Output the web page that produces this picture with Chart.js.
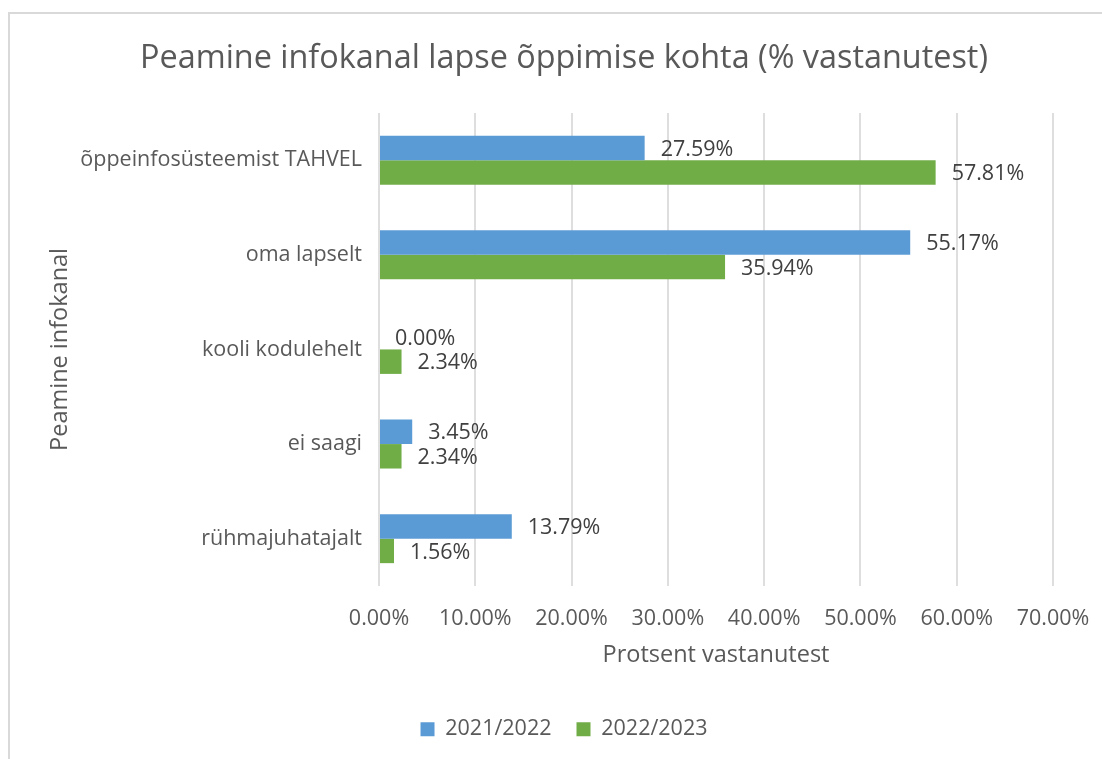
<!DOCTYPE html>
<html>
<head>
<meta charset="utf-8">
<script src="https://cdn.jsdelivr.net/npm/chart.js@4.4.1/dist/chart.umd.min.js"></script>
<style>
  html, body { margin: 0; padding: 0; background: #fff; overflow: hidden; width: 1102px; height: 759px; }
  #frame { position: absolute; left: 8px; top: 12px; width: 1200px; height: 800px;
           border-left: 2px solid #d9d9d9; border-top: 2px solid #d9d9d9; }
  #wrap { position: absolute; left: 0; top: 0; width: 1128px; height: 759px; }
</style>
</head>
<body>
<div id="frame"></div>
<div id="wrap"><canvas id="c" width="1128" height="759"></canvas></div>
<script>
const titleText = 'Peamine infokanal lapse õppimise kohta (% vastanutest)';
const yAxisTitle = 'Peamine infokanal';
const xAxisTitle = 'Protsent vastanutest';
const categories = ['õppeinfosüsteemist TAHVEL', 'oma lapselt', 'kooli kodulehelt', 'ei saagi', 'rühmajuhatajalt'];
const seriesNames = ['2021/2022', '2022/2023'];
const values2021 = [27.59, 55.17, 0.00, 3.45, 13.79];
const values2022 = [57.81, 35.94, 2.34, 2.34, 1.56];
const xTickLabels = ['0.00%', '10.00%', '20.00%', '30.00%', '40.00%', '50.00%', '60.00%', '70.00%'];

const FONT = "'Open Sans', 'DejaVu Sans', sans-serif";

const dataLabelPlugin = {
  id: 'dataLabels',
  afterDatasetsDraw(chart) {
    const ctx = chart.ctx;
    ctx.save();
    ctx.font = '21.5px ' + FONT;
    ctx.fillStyle = '#404040';
    ctx.textAlign = 'left';
    ctx.textBaseline = 'middle';
    chart.data.datasets.forEach((ds, di) => {
      const meta = chart.getDatasetMeta(di);
      meta.data.forEach((el, i) => {
        const v = ds.data[i];
        ctx.fillText(v.toFixed(2) + '%', el.x + 16, el.y + 1.5);
      });
    });
    ctx.restore();
  }
};

new Chart(document.getElementById('c'), {
  type: 'bar',
  data: {
    labels: categories,
    datasets: [
      { label: seriesNames[0], data: values2021, backgroundColor: '#5B9BD5', borderWidth: 0,
        categoryPercentage: 0.517, barPercentage: 1.0 },
      { label: seriesNames[1], data: values2022, backgroundColor: '#70AD47', borderWidth: 0,
        categoryPercentage: 0.517, barPercentage: 1.0 }
    ]
  },
  options: {
    indexAxis: 'y',
    responsive: false,
    animation: false,
    layout: { padding: { left: 75, right: 75, top: 0, bottom: 9 } },
    plugins: {
      title: {
        display: true, text: titleText, color: '#595959',
        font: { family: FONT, size: 32.4, weight: 'normal' },
        padding: { top: 39, bottom: 35 }
      },
      legend: {
        position: 'bottom',
        labels: {
          color: '#595959', font: { family: FONT, size: 21.5 },
          boxWidth: 14, boxHeight: 14, padding: 25
        }
      },
      tooltip: { enabled: false }
    },
    scales: {
      x: {
        min: 0, max: 70,
        ticks: {
          stepSize: 10, color: '#595959', font: { family: FONT, size: 21.5 }, padding: 20,
          maxRotation: 0,
          callback: (v, i) => xTickLabels[i]
        },
        grid: { color: '#dedede', lineWidth: 2, drawTicks: false },
        border: { display: false },
        title: {
          display: true, text: xAxisTitle, color: '#595959',
          font: { family: FONT, size: 23.5 }, padding: { top: 0, bottom: 23.7 }
        },
        afterFit: (s) => { s.height = 107.5; }
      },
      y: {
        ticks: { color: '#595959', font: { family: FONT, size: 21.5 }, padding: 17 },
        grid: { display: false, drawTicks: false },
        border: { display: false },
        title: {
          display: true, text: yAxisTitle, color: '#595959',
          font: { family: FONT, size: 23.5 }, padding: { top: -29, bottom: 0 }
        },
        afterFit: (s) => { s.width = 304; }
      }
    }
  },
  plugins: [dataLabelPlugin]
});
</script>
</body>
</html>
